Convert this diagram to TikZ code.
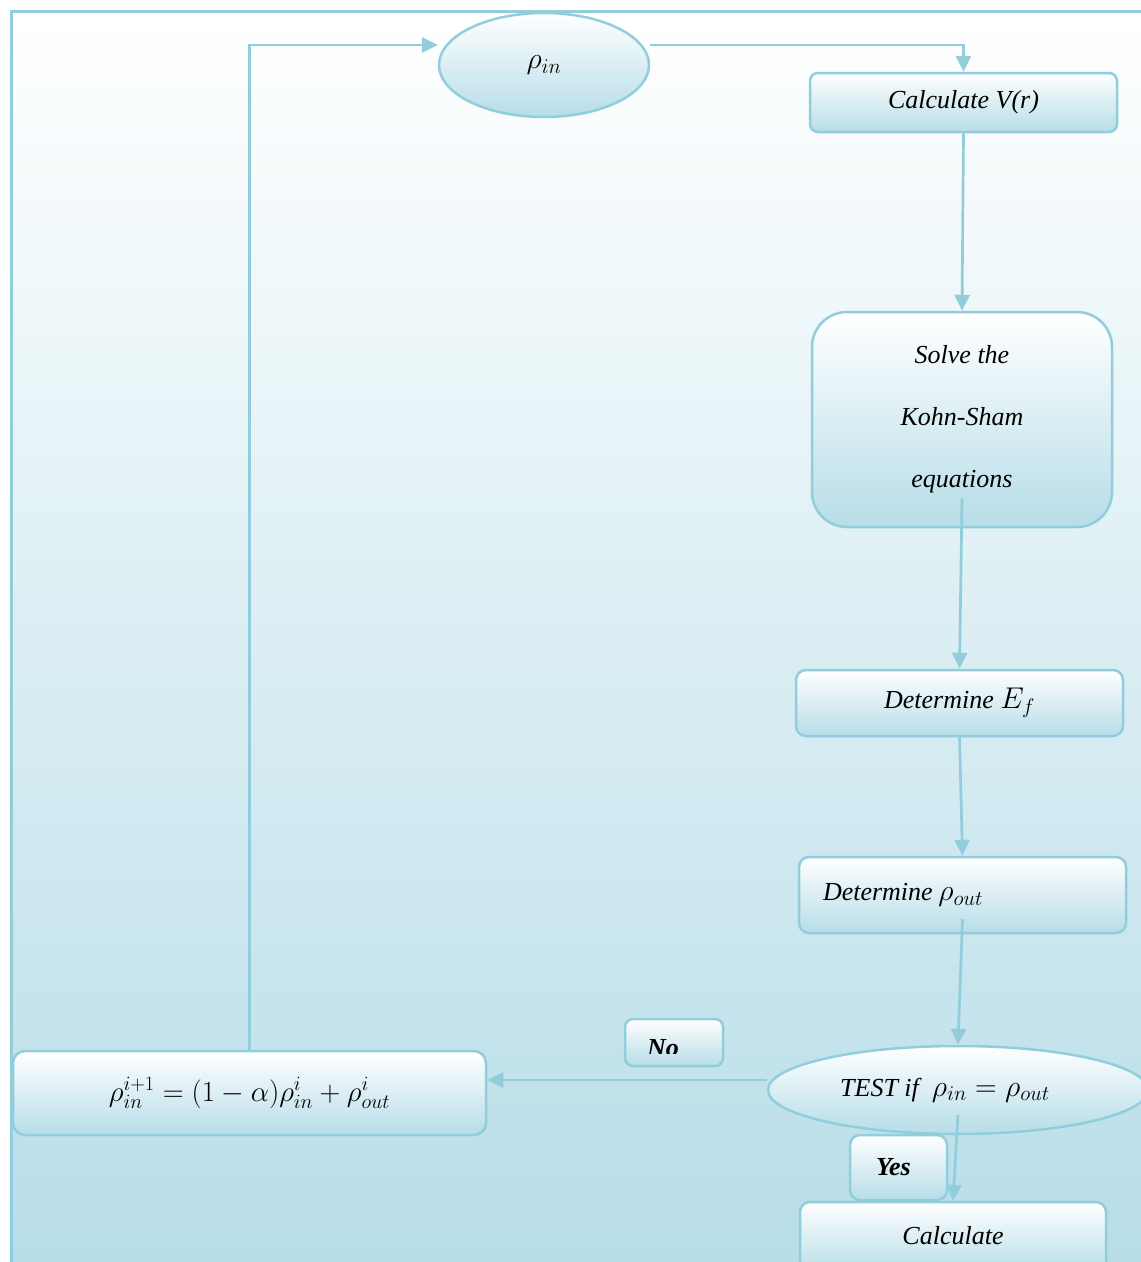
\RequirePackage{fix-cm}
\documentclass[tikz,border=0pt]{standalone}
\usepackage{fontspec}
\setmainfont{Liberation Serif}
\usetikzlibrary{shapes.geometric,arrows.meta,calc}
\definecolor{aqua}{HTML}{92CDDC}
\definecolor{aquafill}{HTML}{B7DDE8}
\newcommand\mymath[1]{{\fontsize{30}{30}\selectfont$#1$}}
\begin{document}
\begin{tikzpicture}[x=1pt,y=-1pt,
  box/.style={draw=aqua, line width=2.5pt, top color=white, bottom color=aquafill,
    rounded corners=10pt, inner sep=0pt, font=\itshape\fontsize{26}{30}\selectfont},
  lbl/.style={inner sep=0pt, font=\bfseries\itshape\fontsize{26}{30}\selectfont},
  arr/.style={draw=aqua, line width=2.7pt, -{Triangle[length=16pt,width=15pt]}}]
\useasboundingbox (0,0) rectangle (1141,1262);
\fill[white] (0,0) rectangle (1141,1262);
\shade[top color=white, bottom color=aquafill] (11,11) rectangle (1150,1270);
\draw[aqua, line width=3pt] (11,1270) -- (11,11) -- (1150,11);

\node[box, ellipse, minimum width=210pt, minimum height=104pt] (rin) at (544,65) {\mymath{\rho_{in}}};
\node[box, rounded corners=8pt, minimum width=307pt, minimum height=59pt] (calcV) at (963.5,102.5) {Calculate V(r)};
\node[box, rounded corners=35pt, minimum width=300pt, minimum height=215pt, align=center,
  font=\itshape\fontsize{26}{62}\selectfont] (solve) at (962,419.5) {Solve the\\Kohn-Sham\\equations};
\node[box, minimum width=327pt, minimum height=66pt] (detE) at (959.5,703) {Determine \mymath{E_f}};
\node[box, minimum width=327pt, minimum height=76pt, text width=279pt, align=left] (detR) at (962.5,895) {Determine\hspace{-3pt} \mymath{\rho_{out}}};
\node[box, ellipse, minimum width=380pt, minimum height=88pt] (test) at (958,1090) {TEST if\ \ \mymath{\rho_{in}=\rho_{out}}\hspace*{26pt}};
\node[box, rounded corners=12pt, minimum width=473pt, minimum height=84pt, font=\fontsize{29}{30}\selectfont] (formula) at (249.5,1093)
  {$\rho^{i+1}_{in}=(1-\alpha)\rho^{i}_{in}+\rho^{i}_{out}$};
\node[box, rounded corners=8pt, minimum width=98pt, minimum height=47pt] (no) at (674,1042.5) {};
\begin{scope}
  \clip (600,1000) rectangle (750,1053);
  \node[lbl, anchor=base] (nolbl) at (663,1056) {No};
\end{scope}
\node[box, rounded corners=10pt, minimum width=97pt, minimum height=65pt,
  font=\bfseries\itshape\fontsize{26}{30}\selectfont] (yes) at (898.5,1167.5) {Yes\hspace*{10pt}};
\node[box, minimum width=306pt, minimum height=72pt] (calc) at (953,1238) {\raisebox{6pt}{Calculate}};

\draw[arr] (formula.north) |- ([yshift=20pt]rin.west);
\draw[arr] ([yshift=20pt]rin.east) -| (calcV.north);
\draw[arr] (calcV.south) -- (solve.north);
\draw[arr] ([yshift=30pt]solve.south) -- (detE.north);
\draw[arr] (detE.south) -- (detR.north);
\draw[arr] ([yshift=15pt]detR.south) -- (test.north);
\draw[arr] ([yshift=10pt]test.west) -- ([yshift=10pt]test.west -| formula.east);
\draw[arr] ([yshift=-25pt]test.center) -- (calc.north);
\end{tikzpicture}
\end{document}
